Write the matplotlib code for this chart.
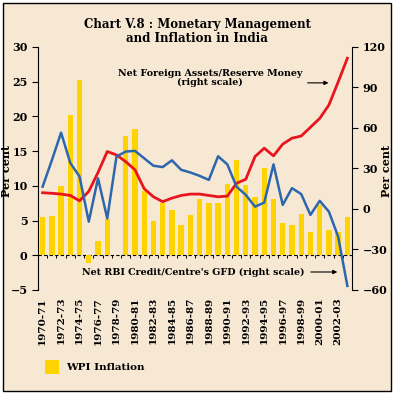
import matplotlib
matplotlib.use('agg')
import matplotlib.pyplot as plt
from matplotlib.patches import Rectangle

years = ['1970-71', '1971-72', '1972-73', '1973-74', '1974-75', '1975-76', '1976-77',
         '1977-78', '1978-79', '1979-80', '1980-81', '1981-82', '1982-83', '1983-84',
         '1984-85', '1985-86', '1986-87', '1987-88', '1988-89', '1989-90', '1990-91',
         '1991-92', '1992-93', '1993-94', '1994-95', '1995-96', '1996-97', '1997-98',
         '1998-99', '1999-00', '2000-01', '2001-02', '2002-03', '2003-04']
wpi = [5.5, 5.6, 10.0, 20.2, 25.2, -1.1, 2.1, 5.2, 0.0, 17.1, 18.2, 9.3, 4.9, 7.5,
       6.5, 4.4, 5.8, 8.1, 7.5, 7.5, 10.3, 13.7, 10.1, 8.4, 12.5, 8.1, 4.6, 4.4,
       5.9, 3.3, 7.2, 3.6, 3.4, 5.5]
nfa_rm = [12, 11.6, 11, 10, 6, 13, 27, 42.5, 40, 35, 29, 15, 9, 5.4, 8, 10, 11,
          11, 10, 9, 9.5, 19, 22, 38.8, 45, 39.3, 48, 52.4, 54, 60.5, 67, 77, 94, 111.6]
rbi_gfd = [16.5, 36, 56.5, 34, 24, -9.4, 22.7, -7, 38.8, 42.5, 43, 37.5, 32, 31,
           36, 29, 27, 24.5, 21.5, 39, 33, 16.5, 10.4, 1.7, 4.7, 33, 3, 15.4, 11,
           -4.4, 6, -2, -20.5, -57]

bg = '#F7E8D3'
plt.rcParams['font.family'] = 'DejaVu Serif'

fig = plt.figure(figsize=(3.94, 3.94), dpi=100, facecolor='white')
fig.add_artist(Rectangle((0.008, 0.008), 0.984, 0.984, transform=fig.transFigure,
                         facecolor=bg, edgecolor='black', lw=1, zorder=-10))

ax = fig.add_axes([0.0964, 0.264, 0.797, 0.617])
ax.patch.set_alpha(0)
x = list(range(len(years)))
bars = ax.bar(x, wpi, width=0.58, color='#FFD300', zorder=2, label='WPI Inflation')
ax.set_xlim(-0.5, len(years) - 0.5)
ax.set_ylim(-5, 30)
ax.set_yticks(range(-5, 31, 5))
ax.axhline(0, color='black', lw=0.8, ls=(0, (3, 2)), zorder=1)
ax.vlines([i + 0.5 for i in x[:-1]], -0.45, 0, color='black', lw=0.7, zorder=1)

for s in ['top', 'bottom', 'right']:
    ax.spines[s].set_visible(False)
ax.spines['left'].set_linewidth(0.8)
ax.set_xticks(x[::2])
ax.set_xticklabels(years[::2], rotation=90, fontsize=7.5, fontweight='bold')
ax.tick_params(axis='x', length=0, pad=5)
ax.tick_params(axis='y', labelsize=8, length=4, width=0.8)
for t in ax.get_yticklabels():
    t.set_fontweight('bold')
ax.set_ylabel('Per cent', fontsize=8, fontweight='bold')
ax.yaxis.set_label_coords(-0.083, 0.49)

ax2 = ax.twinx()
ax2.set_ylim(-60, 120)
ax2.set_yticks(range(-60, 121, 30))
ax2.plot(x, nfa_rm, color='#E8151D', lw=2, zorder=3)
ax2.plot(x, rbi_gfd, color='#2C67AE', lw=1.8, zorder=3)
for s in ['top', 'bottom', 'left']:
    ax2.spines[s].set_visible(False)
ax2.spines['right'].set_linewidth(0.8)
ax2.tick_params(axis='y', labelsize=8, length=4, width=0.8)
for t in ax2.get_yticklabels():
    t.set_fontweight('bold')
ax2.set_ylabel('Per cent', fontsize=8, fontweight='bold')
ax2.yaxis.set_label_coords(1.093, 0.49)

ax2.text(0.548, 0.872, 'Net Foreign Assets/Reserve Money\n(right scale)',
         transform=ax2.transAxes, ha='center', va='center', fontsize=6.8,
         fontweight='bold', linespacing=1.1)
ax2.annotate('', xy=(0.934, 0.852), xytext=(0.85, 0.852), xycoords='axes fraction',
             arrowprops=dict(arrowstyle='-|>', lw=0.8, color='black', mutation_scale=6))
ax2.text(0.494, 0.074, "Net RBI Credit/Centre's GFD (right scale)",
         transform=ax2.transAxes, ha='center', va='center', fontsize=6.8,
         fontweight='bold')
ax2.annotate('', xy=(0.962, 0.074), xytext=(0.86, 0.074), xycoords='axes fraction',
             arrowprops=dict(arrowstyle='-|>', lw=0.8, color='black', mutation_scale=6))

fig.text(0.5, 0.955, 'Chart V.8 : Monetary Management\nand Inflation in India',
         ha='center', va='top', fontsize=8.5, fontweight='bold', linespacing=1.15)

fig.legend(handles=[bars], loc='lower left', bbox_to_anchor=(0.09, 0.028),
           frameon=False, prop={'size': 7.5, 'weight': 'bold'}, handlelength=1.4,
           handleheight=1.6, handletextpad=0.6)

fig.savefig('out.png', dpi=100, facecolor='white')
